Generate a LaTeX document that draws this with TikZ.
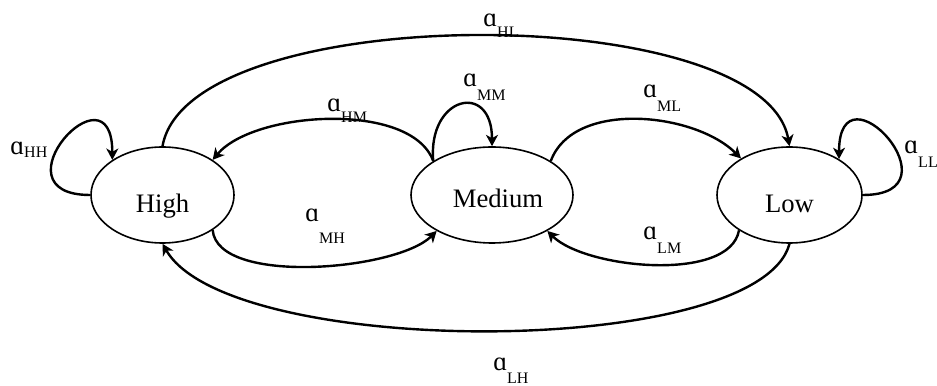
\documentclass[tikz,border=0pt]{standalone}
\usepackage{fontspec}
\setmainfont{Liberation Serif}
\usetikzlibrary{arrows.meta,shapes.geometric}
\newcommand{\alab}[2]{ɑ\raisebox{-#2}{\fontsize{12}{12}\selectfont #1}}
\tikzset{
  state/.style={draw, ellipse, line width=1.2pt, inner sep=0pt, minimum height=72pt, font=\fontsize{20}{20}\selectfont},
  trans/.style={draw, line width=1.8pt, -{Stealth[length=8.5pt,width=9pt,inset=2.5pt]}},
  lab/.style={anchor=base west, inner sep=0pt, font=\fontsize{20}{20}\selectfont}
}
\begin{document}
\begin{tikzpicture}[x=0.75pt,y=0.75pt]
\useasboundingbox (0,0) rectangle (937,385);
\node[state, minimum width=107.25pt, text height=27pt, text depth=0pt] (high) at (162.5,190) {High};
\node[state, minimum width=121.5pt, text height=19.5pt, text depth=0pt] (med) at (492,190) {\hspace*{9pt}Medium};
\node[state, minimum width=108.75pt, text height=27pt, text depth=0pt] (low) at (789.5,190) {Low};

\draw[trans] (high.west) to[out=180,in=90,distance=75pt] (high.145);
\draw[trans] (low.east) to[out=0,in=90,distance=75pt] (low.36);
\draw[trans] (med.150) to[out=95,in=90,distance=49pt] (med.north);
\draw[trans] (high.north) to[out=80,in=100,distance=112pt] (low.north);
\draw[trans] (med.150) to[out=110,in=50,distance=48pt] (high.35);
\draw[trans] (high.-35) to[out=-85,in=-135,distance=42pt] (med.213);
\draw[trans] (med.30) to[out=70,in=135,distance=49pt] (low.143);
\draw[trans] (low.215) to[out=-100,in=-45,distance=40pt] (med.-33);
\draw[trans] (low.south) to[out=-105,in=-60,out distance=90pt,in distance=100pt] (high.south);

\node[lab] (lHH) at (10,230) {\alab{HH}{2pt}};
\node[lab] (lHL) at (483,358) {\alab{HL}{8pt}};
\node[lab] (lMM) at (463,298) {\alab{MM}{10pt}};
\node[lab] (lHM) at (327,273) {\alab{HM}{8pt}};
\node[lab] (lML) at (643,287) {\alab{ML}{10pt}};
\node[lab] (lLL) at (904,231) {\alab{LL}{10pt}};
\node[lab] (lMH) at (305,163) {\alab{MH}{16pt}};
\node[lab] (lLM) at (643,145) {\alab{LM}{10pt}};
\node[lab] (lLH) at (493,15) {\alab{LH}{10pt}};
\end{tikzpicture}
\end{document}
